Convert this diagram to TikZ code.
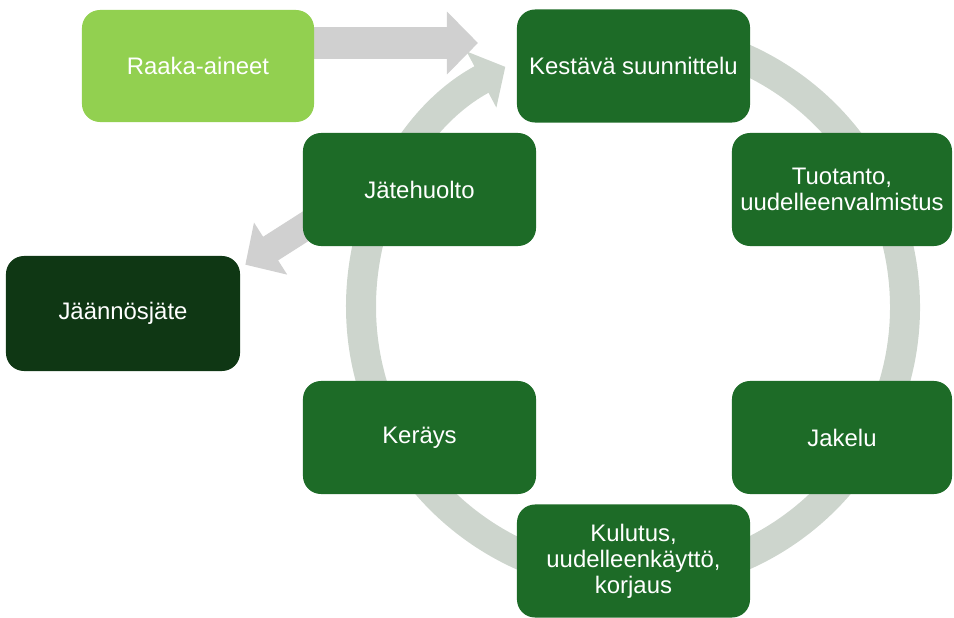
\documentclass[tikz,border=0pt]{standalone}
\usepackage{fontspec}
\setmainfont{Liberation Sans}
\usepackage{tikz}
\usetikzlibrary{arrows.meta}
\usetikzlibrary{backgrounds}

\definecolor{stagegreen}{HTML}{1D6B27}
\definecolor{rawgreen}{HTML}{92D050}
\definecolor{wastegreen}{HTML}{0F3714}
\definecolor{arrowgray}{HTML}{D0D0D0}
\definecolor{ringgray}{HTML}{CDD5CD}

\tikzset{
	stage/.style={rectangle, rounded corners=0.45cm, fill=stagegreen, text=white,
		align=center, inner sep=0pt, minimum width=5.825cm, minimum height=2.825cm,
		font=\fontsize{17}{18.5}\selectfont},
	sidestage/.style={stage, minimum width=5.5cm},
	rawbox/.style={stage, fill=rawgreen, minimum width=5.8cm, minimum height=2.8cm},
	wastebox/.style={stage, fill=wastegreen, minimum width=5.85cm, minimum height=2.875cm},
	bigarrow/.style={draw=arrowgray, line width=0.8cm, -{Triangle[length=0.775cm, width=1.525cm]}},
	cyclering/.style={draw=ringgray, line width=0.75cm, -{Triangle[length=0.675cm, width=1.55cm]}}
}

\begin{document}
\begin{tikzpicture}[x=0.025cm, y=0.025cm]

	\useasboundingbox (0,0) rectangle (954,-618);

	% Draw stages of the cycle
	\node[stage] (kestava) at (633.5,-66) {Kestävä suunnittelu};
	\node[sidestage] (tuotanto) at (842,-189.5) {Tuotanto,\\uudelleenvalmistus};
	\node[sidestage] (jakelu) at (842,-437.5) {Jakelu};
	\node[stage] (kulutus) at (633.5,-561) {Kulutus,\\uudelleenkäyttö,\\korjaus};
	\node[stage] (kerays) at (419.5,-437.5) {Keräys};
	\node[stage] (jate) at (419.5,-189.5) {Jätehuolto};

	% Draw input and output
	\node[rawbox] (raaka) at (198,-66) {Raaka-aineet};
	\node[wastebox] (jaannos) at (123,-313.5) {Jäännösjäte};

	\begin{scope}[on background layer]
		% Draw cycle ring
		\coordinate (ringctr) at (633,-307);
		\draw[cyclering] (ringctr) ++(95:272) arc[start angle=95, end angle=-242, radius=272];

		% Draw in and out arrows
		\coordinate (intip) at (478,-43);
		\draw[bigarrow] (raaka.east |- intip) -- (intip);
		\draw[bigarrow, line width=0.7cm, -{Triangle[length=0.75cm, width=1.5cm]}]
			([shift={(17,29)}]jate.south west) -- ([shift={(5,-9)}]jaannos.north east);
	\end{scope}

\end{tikzpicture}
\end{document}
